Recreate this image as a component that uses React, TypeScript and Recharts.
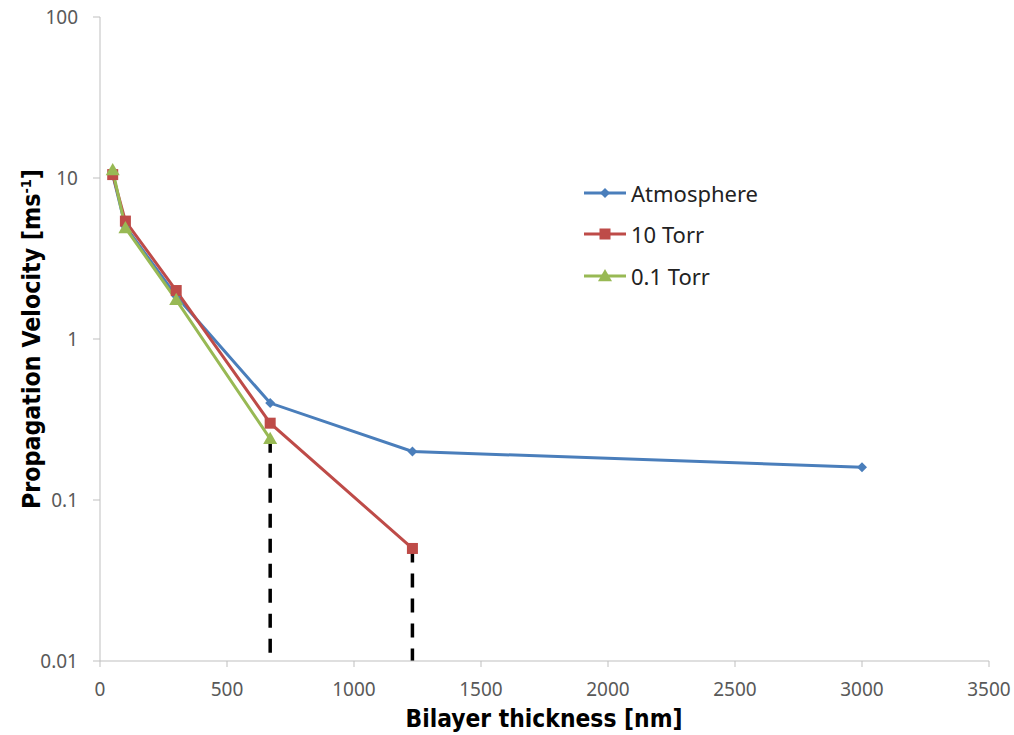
import React from "react"
import { LineChart, Line, XAxis, YAxis, ReferenceLine } from "recharts"

// bilayer thickness in nm
const thickness = [50, 100, 300, 670, 1230, 3000]

// propagation velocity in m/s for each atmosphere
const atmosphere = [10.5, 5.0, 1.85, 0.4, 0.2, 0.16]
const torr10 = [10.5, 5.4, 2.0, 0.3, 0.05]
const torr01 = [11.2, 4.9, 1.75, 0.24]

const xTicks = [0, 500, 1000, 1500, 2000, 2500, 3000, 3500]
const yTicks = [0.01, 0.1, 1, 10, 100]

const BLUE = "#4a7ebb"
const RED = "#be4b48"
const GREEN = "#98b954"

const toPoints = (vals: number[]) =>
  vals.map((v, i) => ({ x: thickness[i], y: v }))

const atmPts = toPoints(atmosphere)
const t10Pts = toPoints(torr10)
const t01Pts = toPoints(torr01)

// vertical drop lines where the reduced-pressure series end
const dropLines = [
  { x: thickness[3], y: torr01[3] },
  { x: thickness[4], y: torr10[4] },
]

const narrowFont = "'DejaVu Sans Condensed', 'DejaVu Sans', sans-serif"
const tickFont = "'Noto Sans', sans-serif"

const Diamond = (props: any) => {
  const { cx, cy } = props
  if (cx == null || cy == null) return null
  const r = 5
  return (
    <polygon
      points={`${cx},${cy - r} ${cx + r},${cy} ${cx},${cy + r} ${cx - r},${cy}`}
      fill={BLUE}
    />
  )
}

const Square = (props: any) => {
  const { cx, cy } = props
  if (cx == null || cy == null) return null
  const s = 11
  return <rect x={cx - s / 2} y={cy - s / 2} width={s} height={s} fill={RED} />
}

const Triangle = (props: any) => {
  const { cx, cy } = props
  if (cx == null || cy == null) return null
  const r = 7
  return (
    <polygon
      points={`${cx},${cy - r} ${cx + r},${cy + r * 0.75} ${cx - r},${cy + r * 0.75}`}
      fill={GREEN}
    />
  )
}

const legendItems = [
  { name: "Atmosphere", color: BLUE, Marker: Diamond },
  { name: "10 Torr", color: RED, Marker: Square },
  { name: "0.1 Torr", color: GREEN, Marker: Triangle },
]

const LegendBox = () => (
  <div
    style={{
      position: "absolute",
      left: 584,
      top: 172,
      fontFamily: "'Noto Sans', sans-serif",
      fontSize: 22,
      color: "#222",
    }}
  >
    {legendItems.map(({ name, color, Marker }) => (
      <div key={name} style={{ display: "flex", alignItems: "center", height: 41.5 }}>
        <svg width={42} height={20} style={{ marginRight: 5 }}>
          <line x1={0} y1={10} x2={42} y2={10} stroke={color} strokeWidth={3} />
          <Marker cx={21} cy={10} />
        </svg>
        <span>{name}</span>
      </div>
    ))}
  </div>
)

const YTitle = () => (
  <text
    x={40}
    y={339}
    transform="rotate(-90 40 339)"
    textAnchor="middle"
    fontFamily={narrowFont}
    fontWeight="bold"
    fontSize={24}
    fill="#000"
    textLength={340}
    lengthAdjust="spacingAndGlyphs"
  >
    Propagation Velocity [ms
    <tspan fontSize={14} dy={-9}>-1</tspan>
    <tspan dy={9}>]</tspan>
  </text>
)

const XTitle = () => (
  <text
    x={544}
    y={727}
    textAnchor="middle"
    fontFamily={narrowFont}
    fontWeight="bold"
    fontSize={25}
    fill="#000"
    textLength={277}
    lengthAdjust="spacingAndGlyphs"
  >
    Bilayer thickness [nm]
  </text>
)

export default function App() {
  return (
    <div style={{ position: "absolute", left: 0, top: 0, width: 1014, height: 735, background: "#fff" }}>
      <LineChart
        width={1014}
        height={735}
        margin={{ top: 17, right: 25, bottom: 0, left: 0 }}
      >
        <XAxis
          dataKey="x"
          type="number"
          domain={[0, 3500]}
          ticks={xTicks}
          allowDataOverflow
          stroke="#bfbfbf"
          tickSize={6}
          tickMargin={16}
          height={74}
          fontSize={19}
          fontFamily={tickFont}
          tick={{ fill: "#595959" }}
        />
        <YAxis
          dataKey="y"
          type="number"
          scale="log"
          domain={[0.01, 100]}
          ticks={yTicks}
          allowDataOverflow
          width={100}
          stroke="#bfbfbf"
          tickSize={7}
          tickMargin={15}
          fontSize={19}
          fontFamily={tickFont}
          tickFormatter={(v: number) => String(v)}
          tick={{ fill: "#595959" }}
        />
        {dropLines.map((d) => (
          <ReferenceLine
            key={d.x}
            segment={[
              { x: d.x, y: d.y },
              { x: d.x, y: yTicks[0] },
            ]}
            stroke="#000"
            strokeWidth={3.5}
            strokeDasharray="14 11"
            ifOverflow="visible"
          />
        ))}
        <Line
          data={atmPts}
          dataKey="y"
          name="Atmosphere"
          stroke={BLUE}
          strokeWidth={3}
          dot={<Diamond />}
          isAnimationActive={false}
        />
        <Line
          data={t10Pts}
          dataKey="y"
          name="10 Torr"
          stroke={RED}
          strokeWidth={3}
          dot={<Square />}
          isAnimationActive={false}
        />
        <Line
          data={t01Pts}
          dataKey="y"
          name="0.1 Torr"
          stroke={GREEN}
          strokeWidth={3}
          dot={<Triangle />}
          isAnimationActive={false}
        />
        <YTitle />
        <XTitle />
      </LineChart>
      <LegendBox />
    </div>
  )
}
